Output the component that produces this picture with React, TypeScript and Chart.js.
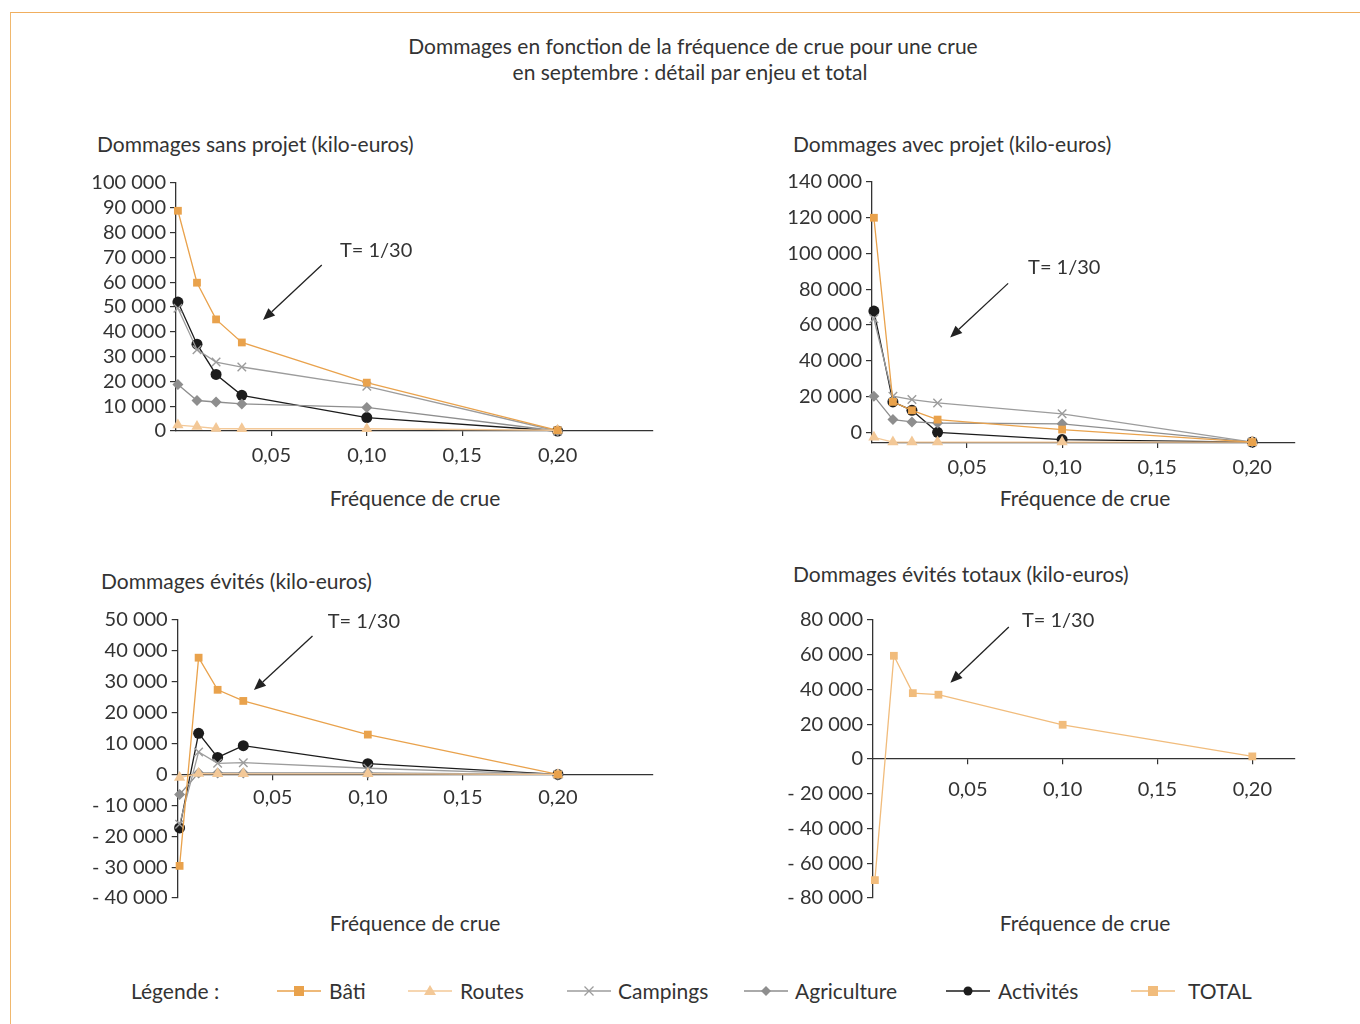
import React, { useEffect, useRef } from 'react';
import { Chart, registerables } from 'chart.js';
Chart.register(...registerables);

// ---------- DATA ----------
const freq = [0.001, 0.011, 0.021, 0.0345, 0.1, 0.2];
const xTickValues = [0.05, 0.1, 0.15, 0.2];

const sansBati = [88800, 59800, 45000, 35700, 19500, 300];
const sansRoutes = [2400, 1800, 1000, 900, 900, 300];
const sansCampings = [49500, 32800, 27800, 25800, 18000, 0];
const sansAgri = [18700, 12300, 11700, 10900, 9500, 0];
const sansActiv = [52000, 35000, 22800, 14400, 5400, 0];
const sansYTicks = [0, 10000, 20000, 30000, 40000, 50000, 60000, 70000, 80000, 90000, 100000];

const avecBati = [120000, 17000, 12300, 7100, 1500, -5500];
const avecRoutes = [-2800, -5500, -5500, -5500, -5500, -5500];
const avecCampings = [63500, 20200, 18300, 16400, 10300, -5500];
const avecAgri = [20200, 7100, 5800, 5200, 4700, -5500];
const avecActiv = [67800, 17000, 12300, 0, -4100, -5500];
const avecYTicks = [0, 20000, 40000, 60000, 80000, 100000, 120000, 140000];

const evitesBati = [-29600, 37800, 27400, 23800, 12900, 0];
const evitesRoutes = [-1000, 300, 200, 200, 200, 0];
const evitesCampings = [-16100, 7300, 3600, 3800, 2000, 0];
const evitesAgri = [-6500, 500, 500, 500, 500, 0];
const evitesActiv = [-17300, 13300, 5500, 9300, 3500, 0];
const evitesYTicks = [-40000, -30000, -20000, -10000, 0, 10000, 20000, 30000, 40000, 50000];

const totalEvites = [-69700, 59400, 37900, 37000, 19700, 1500];
const totalYTicks = [-80000, -60000, -40000, -20000, 0, 20000, 40000, 60000, 80000];

const seriesNames = ['Bâti', 'Routes', 'Campings', 'Agriculture', 'Activités', 'TOTAL'];
const annotLabel = 'T= 1/30';

// ---------- STYLES ----------
const FONT = 'Lato, "Open Sans", sans-serif';
const TXT = '#333333';
const styles: Record<string, { color: string; pointStyle: any; radius: number }> = {
  'Bâti': { color: '#E9A24C', pointStyle: 'rect', radius: 5.5 },
  'Routes': { color: '#F3C897', pointStyle: 'triangle', radius: 6.5 },
  'Campings': { color: '#9C9C9C', pointStyle: 'crossRot', radius: 6 },
  'Agriculture': { color: '#8E8E8E', pointStyle: 'rectRot', radius: 5.5 },
  'Activités': { color: '#1C1C1C', pointStyle: 'circle', radius: 5.5 },
  'TOTAL': { color: '#F1BC7C', pointStyle: 'rect', radius: 5.5 },
};

function fmtY(v: number) {
  const a = Math.abs(Math.round(v)).toString().replace(/\B(?=(\d{3})+(?!\d))/g, '\u00a0');
  return v < 0 ? '-\u00a0' + a : a;
}
function fmtX(v: number) {
  return v.toFixed(2).replace('.', ',');
}

function makeDataset(name: string, values: number[]) {
  const s = styles[name];
  return {
    label: name,
    data: freq.map((f, i) => ({ x: f, y: values[i] })),
    borderColor: s.color,
    backgroundColor: s.color,
    borderWidth: 1.3,
    pointStyle: s.pointStyle,
    pointRadius: s.radius,
    pointBorderWidth: s.pointStyle === 'crossRot' ? 1.4 : 0,
    pointBorderColor: s.color,
    pointBackgroundColor: s.color,
    tension: 0,
    clip: false as any,
  };
}

type Annot = { tx: number; ty: number; x1: number; y1: number; x2: number; y2: number };

function annotPlugin(a: Annot) {
  return {
    id: 'annot',
    afterDatasetsDraw(chart: any) {
      const { ctx, scales } = chart;
      const x = scales.x, y = scales.y;
      const px1 = x.getPixelForValue(a.x1), py1 = y.getPixelForValue(a.y1);
      const px2 = x.getPixelForValue(a.x2), py2 = y.getPixelForValue(a.y2);
      ctx.save();
      ctx.strokeStyle = '#222';
      ctx.fillStyle = '#222';
      ctx.lineWidth = 1.3;
      const ang = Math.atan2(py2 - py1, px2 - px1);
      const hl = 12, hw = 5;
      const bx = px2 - hl * Math.cos(ang), by = py2 - hl * Math.sin(ang);
      ctx.beginPath();
      ctx.moveTo(px1, py1);
      ctx.lineTo(bx, by);
      ctx.stroke();
      ctx.beginPath();
      ctx.moveTo(px2, py2);
      ctx.lineTo(bx + hw * Math.sin(ang), by - hw * Math.cos(ang));
      ctx.lineTo(bx - hw * Math.sin(ang), by + hw * Math.cos(ang));
      ctx.closePath();
      ctx.fill();
      ctx.font = `20px ${FONT}`;
      ctx.fillStyle = TXT;
      ctx.textBaseline = 'middle';
      ctx.textAlign = 'left';
      ctx.fillText(annotLabel, x.getPixelForValue(a.tx), y.getPixelForValue(a.ty));
      ctx.restore();
    },
  };
}

type PanelProps = {
  left: number; top: number; width: number; height: number;
  yWidth: number; padTop: number; padBottom: number; padRight: number;
  xAxisHeight: number; xCenter: boolean; xPad: number;
  yMin: number; yMax: number; yTicks: number[]; xMax: number;
  series: [string, number[]][];
  annot: Annot;
};

function Panel(p: PanelProps) {
  const ref = useRef<HTMLCanvasElement>(null);
  useEffect(() => {
    if (!ref.current) return;
    const tickFont = { family: FONT, size: 20 };
    const chart = new Chart(ref.current, {
      type: 'line',
      data: { datasets: p.series.map(([n, v]) => makeDataset(n, v)) as any },
      options: {
        animation: false,
        responsive: false,
        maintainAspectRatio: false,
        layout: { padding: { left: 0, top: p.padTop, right: p.padRight, bottom: p.padBottom } },
        plugins: { legend: { display: false }, tooltip: { enabled: false } },
        scales: {
          x: {
            type: 'linear',
            min: 0,
            max: p.xMax,
            position: (p.xCenter ? { y: 0 } : 'bottom') as any,
            afterBuildTicks: (s: any) => { s.ticks = xTickValues.map((v) => ({ value: v })); },
            afterFit: (s: any) => { if (!p.xCenter) s.height = p.xAxisHeight; },
            grid: { display: true, drawOnChartArea: false, drawTicks: true, tickLength: 5, color: '#333', lineWidth: 1.2 },
            border: { display: true, color: '#333', width: 1.3 },
            ticks: { callback: (v: any) => fmtX(Number(v)), font: tickFont, color: TXT, padding: p.xPad, maxRotation: 0, autoSkip: false },
          },
          y: {
            type: 'linear',
            min: p.yMin,
            max: p.yMax,
            afterBuildTicks: (s: any) => { s.ticks = p.yTicks.map((v) => ({ value: v })); },
            afterFit: (s: any) => { s.width = p.yWidth; },
            grid: { display: true, drawOnChartArea: false, drawTicks: true, tickLength: 6, color: '#333', lineWidth: 1.2 },
            border: { display: true, color: '#333', width: 1.3 },
            ticks: { callback: (v: any) => fmtY(Number(v)), font: tickFont, color: TXT, padding: 4, autoSkip: false },
          },
        },
      },
      plugins: [annotPlugin(p.annot)],
    });
    return () => chart.destroy();
  }, []);
  return (
    <canvas
      ref={ref}
      width={p.width}
      height={p.height}
      style={{ position: 'absolute', left: p.left, top: p.top, width: p.width, height: p.height }}
    />
  );
}

function Text({ x, y, children, center, w, size }: { x: number; y: number; children: any; center?: boolean; w?: number; size?: number }) {
  return (
    <div
      style={{
        position: 'absolute',
        left: center ? x - (w || 400) / 2 : x,
        top: y - 13,
        width: center ? (w || 400) : undefined,
        textAlign: center ? 'center' : 'left',
        lineHeight: '26px',
        fontSize: size || 21,
        fontFamily: FONT,
        color: TXT,
        whiteSpace: 'nowrap',
      }}
    >
      {children}
    </div>
  );
}

function LegendIcon({ name }: { name: string }) {
  const s = styles[name];
  const c = s.color;
  let marker: any = null;
  const cx = 22, cy = 10;
  if (s.pointStyle === 'rect') marker = <rect x={cx - 5} y={cy - 5} width={10} height={10} fill={c} />;
  if (s.pointStyle === 'triangle') marker = <polygon points={`${cx},${cy - 6} ${cx - 6},${cy + 4} ${cx + 6},${cy + 4}`} fill={c} />;
  if (s.pointStyle === 'crossRot') marker = (
    <g stroke={c} strokeWidth={1.3}>
      <line x1={cx - 4.5} y1={cy - 4.5} x2={cx + 4.5} y2={cy + 4.5} />
      <line x1={cx - 4.5} y1={cy + 4.5} x2={cx + 4.5} y2={cy - 4.5} />
    </g>
  );
  if (s.pointStyle === 'rectRot') marker = <polygon points={`${cx},${cy - 5} ${cx + 5},${cy} ${cx},${cy + 5} ${cx - 5},${cy}`} fill={c} />;
  if (s.pointStyle === 'circle') marker = <circle cx={cx} cy={cy} r={4.5} fill={c} />;
  return (
    <svg width={44} height={20} style={{ display: 'block' }}>
      <line x1={0} y1={cy} x2={44} y2={cy} stroke={c} strokeWidth={1.5} />
      {marker}
    </svg>
  );
}

const legendPos = [
  { icon: 277, text: 329 },
  { icon: 408, text: 460 },
  { icon: 567, text: 618 },
  { icon: 744, text: 795 },
  { icon: 946, text: 998 },
  { icon: 1131, text: 1188 },
];

export default function App() {
  return (
    <div style={{ position: 'absolute', left: 0, top: 0, width: 1360, height: 1024, background: '#fff', overflow: 'hidden' }}>
      <div style={{ position: 'absolute', left: 10, top: 12, width: 1360, height: 1024, borderTop: '1.5px solid #F0AE5E', borderLeft: '1.5px solid #F0B86E' }} />

      <Text x={693} y={46} center w={800}>Dommages en fonction de la fréquence de crue pour une crue</Text>
      <Text x={690} y={72} center w={800}>en septembre : détail par enjeu et total</Text>

      <Text x={97} y={144}>Dommages sans projet (kilo-euros)</Text>
      <Text x={793} y={144}>Dommages avec projet (kilo-euros)</Text>
      <Text x={101} y={581}>Dommages évités (kilo-euros)</Text>
      <Text x={793} y={574}>Dommages évités totaux (kilo-euros)</Text>

      <Text x={415} y={498} center>Fréquence de crue</Text>
      <Text x={1085} y={498} center>Fréquence de crue</Text>
      <Text x={415} y={923} center>Fréquence de crue</Text>
      <Text x={1085} y={923} center>Fréquence de crue</Text>

      <Panel
        left={60} top={160} width={620} height={320}
        yWidth={116} padTop={23} padBottom={0} padRight={27} xAxisHeight={49} xCenter={false} xPad={8}
        yMin={0} yMax={100000} yTicks={sansYTicks} xMax={0.25}
        series={[['Bâti', sansBati], ['Routes', sansRoutes], ['Campings', sansCampings], ['Agriculture', sansAgri], ['Activités', sansActiv]]}
        annot={{ tx: 0.0859, ty: 72600, x1: 0.0764, y1: 66900, x2: 0.0456, y2: 44750 }}
      />
      <Panel
        left={760} top={160} width={560} height={320}
        yWidth={112} padTop={22} padBottom={0} padRight={25} xAxisHeight={37} xCenter={false} xPad={8}
        yMin={-6000} yMax={140000} yTicks={avecYTicks} xMax={0.2225}
        series={[['Bâti', avecBati], ['Routes', avecRoutes], ['Campings', avecCampings], ['Agriculture', avecAgri], ['Activités', avecActiv]]}
        annot={{ tx: 0.0821, ty: 92200, x1: 0.0716, y1: 83300, x2: 0.0411, y2: 53000 }}
      />
      <Panel
        left={60} top={600} width={620} height={320}
        yWidth={117.7} padTop={20} padBottom={22} padRight={27} xAxisHeight={0} xCenter={true} xPad={6}
        yMin={-40000} yMax={50000} yTicks={evitesYTicks} xMax={0.25}
        series={[['Bâti', evitesBati], ['Routes', evitesRoutes], ['Campings', evitesCampings], ['Agriculture', evitesAgri], ['Activités', evitesActiv]]}
        annot={{ tx: 0.0789, ty: 49600, x1: 0.0709, y1: 44800, x2: 0.0401, y2: 27300 }}
      />
      <Panel
        left={760} top={600} width={560} height={320}
        yWidth={113} padTop={20} padBottom={22} padRight={25} xAxisHeight={0} xCenter={true} xPad={14}
        yMin={-80000} yMax={80000} yTicks={totalYTicks} xMax={0.2225}
        series={[['TOTAL', totalEvites]]}
        annot={{ tx: 0.0785, ty: 79500, x1: 0.0716, y1: 76000, x2: 0.0408, y2: 43900 }}
      />

      <Text x={131} y={991}>Légende :</Text>
      {seriesNames.map((n, i) => (
        <React.Fragment key={n}>
          <div style={{ position: 'absolute', left: legendPos[i].icon, top: 981 }}>
            <LegendIcon name={n} />
          </div>
          <Text x={legendPos[i].text} y={991}>{n}</Text>
        </React.Fragment>
      ))}
    </div>
  );
}
